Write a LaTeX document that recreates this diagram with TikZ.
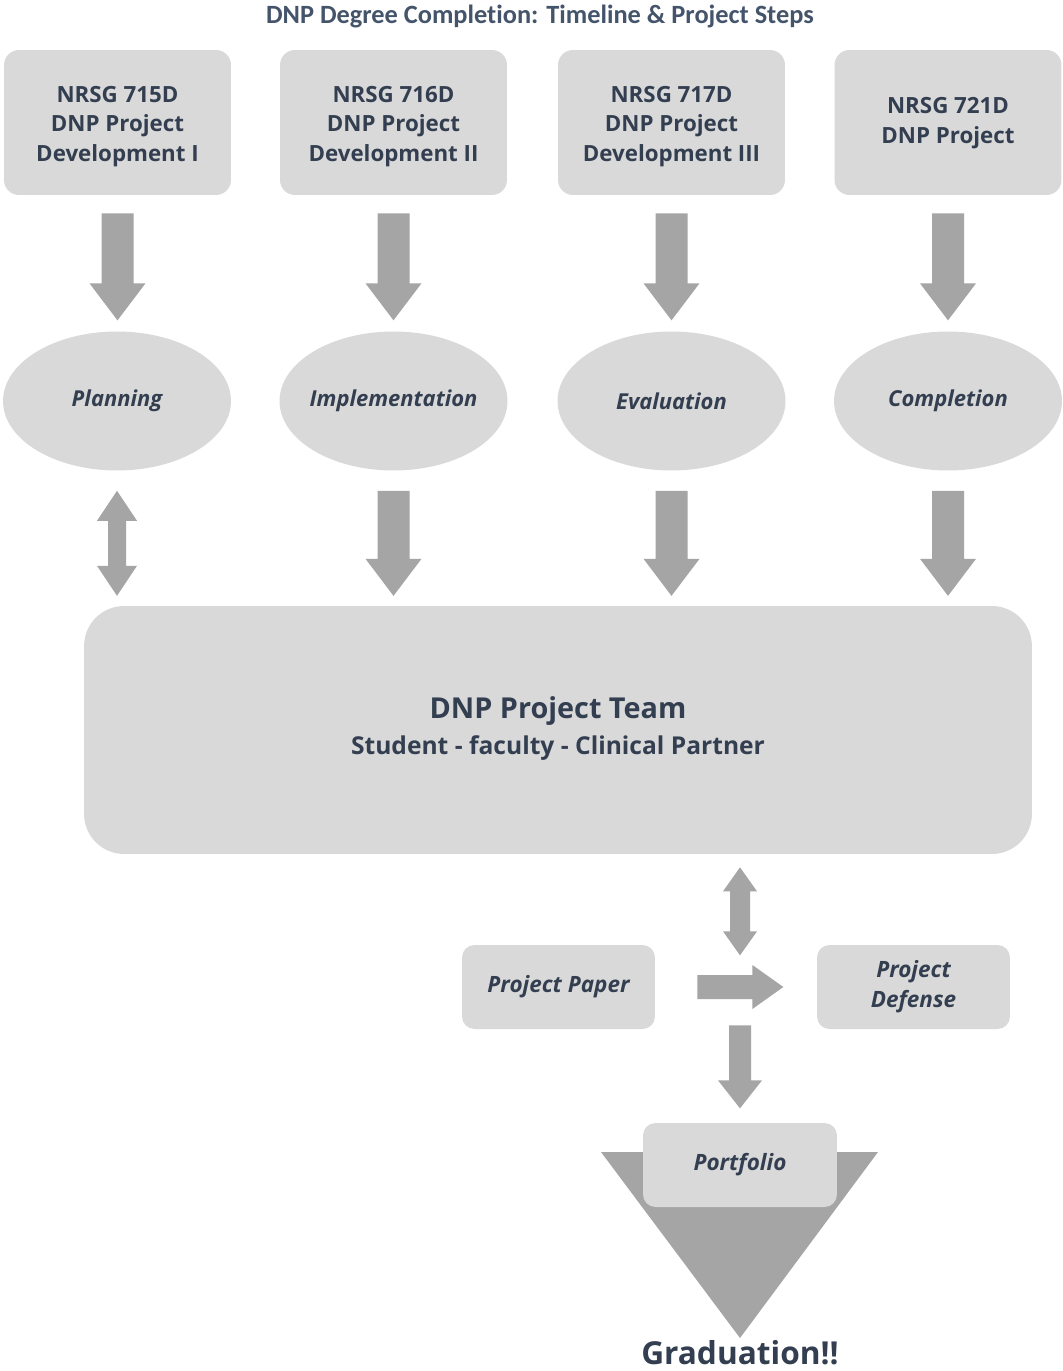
\documentclass[tikz,border=0pt]{standalone}
\usepackage{fontspec}
\setmainfont{Open Sans}
\newfontfamily\titlefont[Ligatures=NoCommon]{Carlito}
\usetikzlibrary{shapes.geometric,calc}
\definecolor{boxfill}{HTML}{D9D9D9}
\definecolor{arrowfill}{HTML}{A5A5A5}
\definecolor{txt}{HTML}{333F50}
\definecolor{titletxt}{HTML}{44546A}
% block arrow pointing down: anchor, gap, length, shaft half, head half, head length
\newcommand\bdown[6]{\fill[arrowfill,shift={#1}] (-#4,#2) -- (-#4,#2+#3-#6) -- (-#5,#2+#3-#6) -- (0,#2+#3) -- (#5,#2+#3-#6) -- (#4,#2+#3-#6) -- (#4,#2) -- cycle;}
% double block arrow (vertical)
\newcommand\bboth[6]{\fill[arrowfill,shift={#1}] (0,#2) -- (#5,#2+#6) -- (#4,#2+#6) -- (#4,#2+#3-#6) -- (#5,#2+#3-#6) -- (0,#2+#3) -- (-#5,#2+#3-#6) -- (-#4,#2+#3-#6) -- (-#4,#2+#6) -- (-#5,#2+#6) -- cycle;}
% block arrow pointing right
\newcommand\bright[6]{\fill[arrowfill,shift={#1}] (#2,-#4) -- (#2+#3-#6,-#4) -- (#2+#3-#6,-#5) -- (#2+#3,0) -- (#2+#3-#6,#5) -- (#2+#3-#6,#4) -- (#2,#4) -- cycle;}
\begin{document}
\begin{tikzpicture}[x=0.02cm,y=-0.02cm,
  course/.style={fill=boxfill,rounded corners=0.3cm,inner sep=0pt,
    minimum width=4.54cm,minimum height=2.9cm},
  coursetext/.style={text=txt,align=center,inner sep=0pt,yshift=-2.3pt,
    font=\bfseries\fontsize{12.7}{17}\selectfont},
  phase/.style={ellipse,fill=boxfill,inner sep=0pt,minimum width=4.56cm,minimum height=2.78cm},
  phasetext/.style={text=txt,inner sep=0pt,font=\bfseries\itshape\fontsize{12.5}{15}\selectfont},
  smallbox/.style={fill=boxfill,rounded corners=0.25cm,text=txt,align=center,inner sep=0pt,
    minimum width=3.86cm,minimum height=1.68cm,font=\bfseries\itshape\fontsize{12.8}{17}\selectfont},
  teambox/.style={fill=boxfill,rounded corners=0.8cm,text=txt,align=center,inner sep=0pt,
    minimum width=18.96cm,minimum height=4.96cm}]
\useasboundingbox (0,0) rectangle (1062,1371);
\fill[white] (0,0) rectangle (1062,1371);

\node[text=titletxt,font=\titlefont\bfseries\fontsize{15}{17}\selectfont] (title) at (540,16) {DNP Degree Completion: Timeline \& Project Steps};

\node[course,label={[coursetext]center:{NRSG 715D\\DNP Project\\Development I}}] (c1) at (117.5,122.5) {};
\node[course,label={[coursetext]center:{NRSG 716D\\DNP Project\\Development II}}] (c2) at (393.5,122.5) {};
\node[course,label={[coursetext]center:{NRSG 717D\\DNP Project\\Development III}}] (c3) at (671.5,122.5) {};
\node[course,label={[coursetext,yshift=1.8pt]center:{NRSG 721D\\DNP Project}}] (c4) at (948,122.5) {};

\node[phase,label={[phasetext]center:Planning}] (p1) at (117,401) {};
\node[phase,label={[phasetext]center:Implementation}] (p2) at (393.5,401) {};
\node[phase,label={[phasetext]center:Evaluation}] (p3) at (671.5,401) {};
\node[phase,label={[phasetext]center:Completion}] (p4) at (948,401) {};

\bdown{(c1.south)}{18}{107}{16}{28}{37}
\bdown{(c2.south)}{18}{107}{16}{28}{37}
\bdown{(c3.south)}{18}{107}{16}{28}{37}
\bdown{(c4.south)}{18}{107}{16}{28}{37}

\node[teambox] (team) at (558,730) {};
\node[text=txt,align=center,font=\bfseries] (teamtxt) at (558,728.5)
  {{\fontsize{16.4}{19}\selectfont DNP Project Team}\\[4.5pt]{\fontsize{14}{16}\selectfont Student - faculty - Clinical Partner}};

\bboth{(p1.south)}{20}{105}{9}{20}{30}
\bdown{(p2.south)}{20}{105}{16}{28}{37}
\bdown{(p3.south)}{20}{105}{16}{28}{37}
\bdown{(p4.south)}{20}{105}{16}{28}{37}

\node[smallbox] (paper) at (558.5,987) {Project Paper};
\node[smallbox] (defense) at (913.5,987) {Project\\Defense};

% triangle
\coordinate (tl) at (601,1152);
\coordinate (tr) at (878,1152);
\coordinate (tb) at (740,1338);
\fill[arrowfill] (tl) -- (tr) -- (tb) -- cycle;
\node[smallbox,minimum width=3.88cm,font=\bfseries\itshape\fontsize{12.8}{15}\selectfont,text depth=0pt] (portfolio) at (740,1165) {\raisebox{4pt}{Portfolio}};

\bboth{(team.south -| portfolio)}{13}{88}{10}{17}{24}
\bright{(paper.east)}{42}{86}{12}{22}{31}
\bdown{(team.south -| portfolio)}{171}{83}{11}{22}{28}

\node[text=txt,font=\bfseries\fontsize{18}{20}\selectfont,anchor=base,inner sep=0pt] (grad) at (740,1364) {Graduation!!};
\end{tikzpicture}
\end{document}
